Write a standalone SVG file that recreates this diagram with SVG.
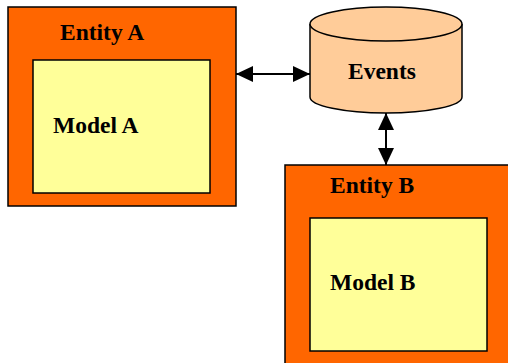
<svg xmlns="http://www.w3.org/2000/svg" width="508" height="363" viewBox="0 0 508 363">
  <style>
    .entity { fill: #FF6600; stroke: #000; stroke-width: 1.5; }
    .model { fill: #FFFF99; stroke: #000; stroke-width: 1.5; }
    .store { fill: #FFCC99; stroke: #000; stroke-width: 1.5; }
    .label { font-family: "Liberation Serif", "Times New Roman", serif; font-weight: bold; font-size: 23.5px; fill: #000; }
    .link { stroke: #000; stroke-width: 2; fill: none; }
  </style>
  <defs>
    <marker id="head" viewBox="0 0 17 16" refX="17" refY="8" markerWidth="17" markerHeight="16" markerUnits="userSpaceOnUse" orient="auto-start-reverse">
      <path d="M0,0 L17,8 L0,16 Z" fill="#000"/>
    </marker>
  </defs>
  <rect width="508" height="363" fill="#fff"/>

  <g id="entity-a">
    <rect class="entity" x="8" y="7" width="228" height="199"/>
    <text class="label" x="60" y="40">Entity A</text>
    <g id="model-a">
      <rect class="model" x="33" y="60" width="177" height="133"/>
      <text class="label" x="53" y="133">Model A</text>
    </g>
  </g>

  <g id="events">
    <path class="store" d="M310,24 L310,97 A76,16 0 0 0 462,97 L462,24 A76,17 0 0 0 310,24 Z"/>
    <path class="store" d="M310,24 A76,17 0 0 0 462,24" fill="none"/>
    <text class="label" x="348" y="79">Events</text>
  </g>

  <g id="entity-b">
    <rect class="entity" x="285" y="165" width="230" height="210"/>
    <text class="label" x="330" y="193">Entity B</text>
    <g id="model-b">
      <rect class="model" x="310" y="218" width="177" height="133"/>
      <text class="label" x="330" y="290">Model B</text>
    </g>
  </g>

  <g id="connectors">
    <line class="link" x1="236" y1="74" x2="310" y2="74" marker-start="url(#head)" marker-end="url(#head)"/>
    <line class="link" x1="386" y1="113" x2="386" y2="165" marker-start="url(#head)" marker-end="url(#head)"/>
  </g>
</svg>
